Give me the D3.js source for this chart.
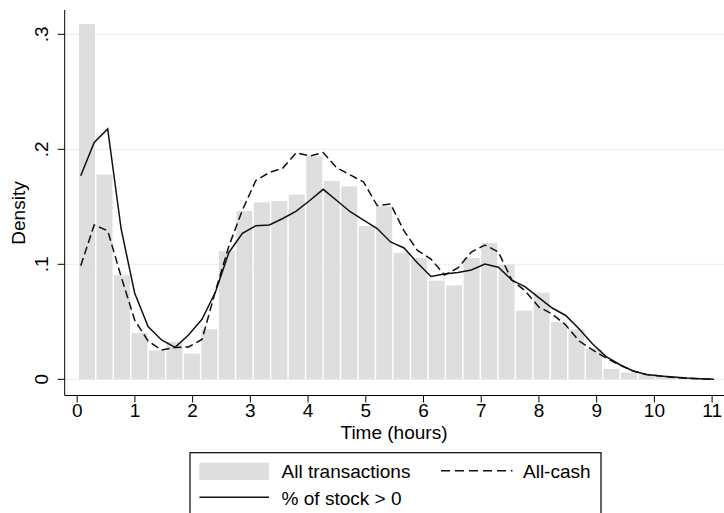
<!DOCTYPE html>
<html><head><meta charset="utf-8">
<script src="https://cdn.jsdelivr.net/npm/d3@7"></script>
<style>body{margin:0;background:#fff}svg{display:block;font-family:Arial,"Liberation Sans",sans-serif}</style>
</head><body><svg id="c" width="724" height="513"></svg>
<script>
const binEdges=[0.027,0.330,0.633,0.936,1.239,1.541,1.844,2.147,2.450,2.753,3.056,3.359,3.662,3.965,4.268,4.571,4.873,5.176,5.479,5.782,6.085,6.388,6.691,6.994,7.297,7.600,7.903,8.205,8.508,8.811,9.114,9.417,9.720,10.023,10.326,10.629,10.932];
const allTransactions=[0.309,0.178,0.0904,0.0403,0.0252,0.0325,0.0223,0.0435,0.1116,0.1464,0.1539,0.155,0.1606,0.1939,0.1725,0.1678,0.1333,0.1504,0.1099,0.1055,0.0858,0.0817,0.1055,0.1186,0.0997,0.0597,0.0754,0.0496,0.0435,0.0261,0.0091,0.0058,0.0043,0.0025,0.0015,0.001];
const lineX=[0.07,0.303,0.537,0.770,1.004,1.237,1.470,1.704,1.937,2.171,2.404,2.637,2.871,3.104,3.338,3.571,3.804,4.038,4.271,4.505,4.738,4.971,5.205,5.438,5.672,5.905,6.138,6.372,6.605,6.839,7.072,7.305,7.539,7.772,8.006,8.239,8.472,8.706,8.939,9.173,9.406,9.639,9.873,10.106,10.340,10.573,10.806,11.040];
const stockPos=[0.1770,0.2059,0.2177,0.1307,0.0751,0.0459,0.0342,0.0278,0.0385,0.0522,0.0759,0.1103,0.1270,0.1336,0.1342,0.1398,0.1463,0.1555,0.1652,0.1555,0.1457,0.1385,0.1311,0.1194,0.1142,0.1011,0.0894,0.0916,0.0929,0.0950,0.1003,0.0974,0.0863,0.0803,0.0711,0.0620,0.0555,0.0437,0.0307,0.0198,0.0129,0.0072,0.0042,0.0029,0.0020,0.0011,0.0005,0.0001];
const allCash=[0.0988,0.1342,0.1292,0.0892,0.0516,0.0333,0.0255,0.0277,0.0281,0.0346,0.0768,0.1159,0.1472,0.1729,0.1798,0.1837,0.1970,0.1942,0.1972,0.1840,0.1777,0.1716,0.1511,0.1524,0.1290,0.1120,0.1046,0.0907,0.0968,0.1107,0.1168,0.1107,0.0863,0.0768,0.0629,0.0568,0.0472,0.0333,0.0255,0.0185,0.0124,0.0072,0.0042,0.0029,0.0016,0.0009,0.0004,0.0001];
const xTicks=[0,1,2,3,4,5,6,7,8,9,10,11];
const yTicks=[0,0.1,0.2,0.3];
const yTickLabels=["0",".1",".2",".3"];

const svg=d3.select("#c");
const x=d3.scaleLinear().domain([0,11]).range([76.7,711.6]);
const y=d3.scaleLinear().domain([0,0.3]).range([379.3,34.3]);
const axX=64.7, axY=395.5;
const fs=19;
const ff="Arial, 'Liberation Sans', sans-serif";

// gridlines
svg.append("g").selectAll("line").data(yTicks).join("line")
 .attr("x1",axX).attr("x2",724).attr("y1",d=>y(d)).attr("y2",d=>y(d))
 .attr("stroke","#e9f1f4").attr("stroke-width",1.2);

// bars
svg.append("g").selectAll("rect").data(allTransactions).join("rect")
 .attr("x",(d,i)=>x(binEdges[i])+0.75)
 .attr("width",(d,i)=>x(binEdges[i+1])-x(binEdges[i])-1.5)
 .attr("y",d=>y(d)).attr("height",d=>y(0)-y(d))
 .attr("fill","#dedede");

const line=d3.line().x((d,i)=>x(lineX[i])).y(d=>y(d));
svg.append("path").datum(allCash).attr("d",line).attr("fill","none")
 .attr("stroke","#111").attr("stroke-width",1.5).attr("stroke-dasharray","8,4");
svg.append("path").datum(stockPos).attr("d",line).attr("fill","none")
 .attr("stroke","#111").attr("stroke-width",1.5);

// y axis
const ya=svg.append("g").attr("transform",`translate(${axX},0)`)
 .call(d3.axisLeft(y).tickValues(yTicks).tickSize(7).tickFormat((d,i)=>yTickLabels[i]));
ya.select(".domain").attr("d",`M0,10V${axY}`);
ya.selectAll(".tick").attr("transform","translate(0,0)");
ya.selectAll(".tick line").attr("y1",d=>y(d)).attr("y2",d=>y(d)).attr("x2",-7);
ya.selectAll("text").attr("font-size",fs).attr("font-family",ff)
 .attr("fill","#000").attr("transform","rotate(-90)")
 .attr("x",d=>-y(d)).attr("y",-17).attr("dy","0").attr("text-anchor","middle");

// x axis
const xa=svg.append("g").attr("transform",`translate(0,${axY})`)
 .call(d3.axisBottom(x).tickValues(xTicks).tickSize(7).tickFormat(d3.format("d")));
xa.select(".domain").attr("d",`M${axX},0H724`);
xa.selectAll("text").attr("font-size",fs).attr("font-family",ff).attr("fill","#000").attr("dy","0").attr("y",21.5);

// titles
svg.append("text").attr("x",394).attr("y",438.5).attr("text-anchor","middle").attr("font-size",fs).text("Time (hours)");
svg.append("text").attr("transform","translate(25,213) rotate(-90)").attr("text-anchor","middle").attr("font-size",fs).text("Density");

// legend
const lg=svg.append("g");
lg.append("rect").attr("x",190).attr("y",452.7).attr("width",411).attr("height",80).attr("fill","#fff").attr("stroke","#000").attr("stroke-width",1.2);
lg.append("rect").attr("x",199.4).attr("y",462.7).attr("width",69.6).attr("height",17.3).attr("fill","#dedede");
lg.append("text").attr("x",281.6).attr("y",477.5).attr("font-size",fs).text("All transactions");
lg.append("line").attr("x1",441).attr("x2",512.5).attr("y1",470.7).attr("y2",470.7).attr("stroke","#111").attr("stroke-width",1.5).attr("stroke-dasharray","9,5");
lg.append("text").attr("x",523).attr("y",477.5).attr("font-size",fs).text("All-cash");
lg.append("line").attr("x1",199.4).attr("x2",269).attr("y1",497.3).attr("y2",497.3).attr("stroke","#111").attr("stroke-width",1.5);
lg.append("text").attr("x",281.6).attr("y",505).attr("font-size",fs).text("% of stock > 0");
</script></body></html>
